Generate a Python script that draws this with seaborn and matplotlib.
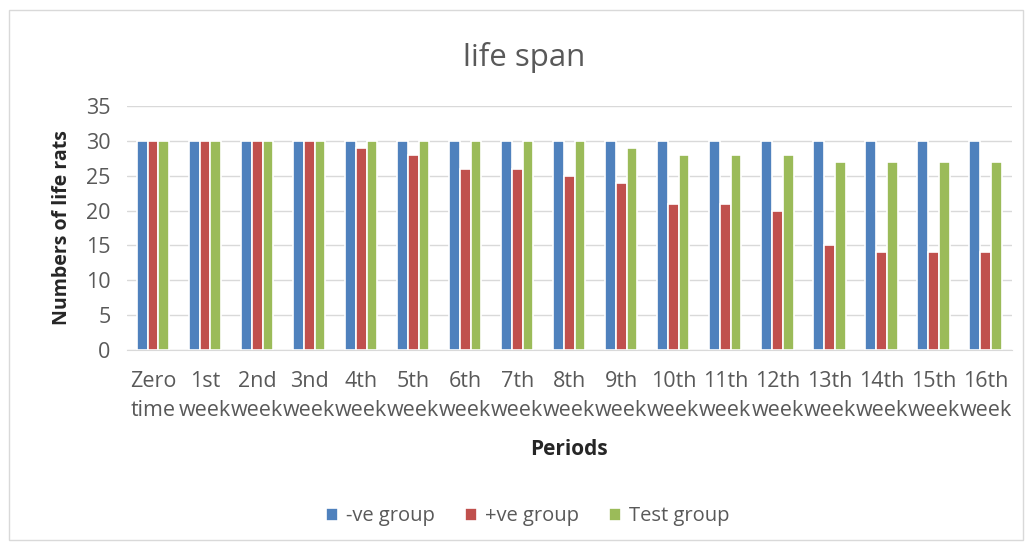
import pandas as pd
import matplotlib.pyplot as plt
import seaborn as sns
from matplotlib.patches import Rectangle

# dados
periodos = ['Zero\ntime', '1st\nweek', '2nd\nweek', '3nd\nweek', '4th\nweek', '5th\nweek',
            '6th\nweek', '7th\nweek', '8th\nweek', '9th\nweek', '10th\nweek', '11th\nweek',
            '12th\nweek', '13th\nweek', '14th\nweek', '15th\nweek', '16th\nweek']
neg_group = [30] * 17
pos_group = [30, 30, 30, 30, 29, 28, 26, 26, 25, 24, 21, 21, 20, 15, 14, 14, 14]
test_group = [30, 30, 30, 30, 30, 30, 30, 30, 30, 29, 28, 28, 28, 27, 27, 27, 27]
grupos = ['-ve group', '+ve group', 'Test group']
cores = ['#4F81BD', '#C0504D', '#9BBB59']

df = pd.DataFrame({'Periods': periodos * 3,
                   'valor': neg_group + pos_group + test_group,
                   'grupo': [g for g in grupos for _ in periodos]})

sns.set_style('white')
plt.rcParams['font.family'] = ['Open Sans', 'DejaVu Sans']

fig = plt.figure(figsize=(10.29, 5.48), dpi=100)
ax = fig.add_axes([0.1235, 0.3613, 0.8595, 0.4453])

sns.barplot(data=df, x='Periods', y='valor', hue='grupo', palette=cores, ax=ax,
            width=0.62, edgecolor='white', linewidth=1.2, saturation=1, legend=True)

ax.set_ylim(0, 35)
ax.set_yticks(range(0, 36, 5))
ax.set_xlim(-0.5, len(periodos) - 0.5)
ax.yaxis.grid(True, color='#D9D9D9', linewidth=1)
ax.set_axisbelow(True)
for s in ['top', 'right', 'left']:
    ax.spines[s].set_visible(False)
ax.spines['bottom'].set_color('#D9D9D9')
ax.tick_params(axis='both', colors='#595959', labelsize=15.5, length=0)
ax.tick_params(axis='y', pad=12)
ax.tick_params(axis='x', pad=15)
for lbl in ax.get_xticklabels():
    lbl.set_linespacing(1.52)
ax.set_xlabel('Periods', fontsize=15, fontweight='bold', labelpad=13)
ax.set_ylabel('Numbers of life rats', fontsize=14, fontweight='bold', labelpad=10)
fig.text(0.509, 0.895, 'life span', fontsize=22.5, color='#595959', ha='center', va='center')

handles, labels = ax.get_legend_handles_labels()
ax.get_legend().remove()
fig.legend(handles, labels, loc='center', bbox_to_anchor=(0.513, 0.058), ncol=3,
           frameon=False, fontsize=14.5, handlelength=0.6, handleheight=0.6,
           columnspacing=1.5, handletextpad=0.4, labelcolor='#595959')

fig.patches.append(Rectangle((0.009, 0.014), 0.985, 0.968, transform=fig.transFigure,
                             fill=False, edgecolor='#D9D9D9', linewidth=1))

plt.savefig('out.png', dpi=100)
